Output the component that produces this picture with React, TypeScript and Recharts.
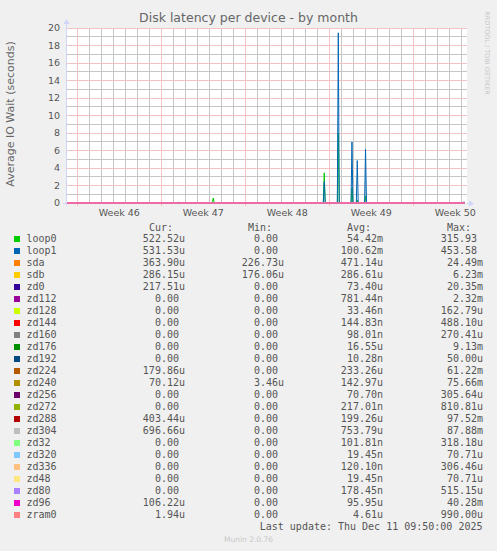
import { Line, LineChart, ReferenceLine, XAxis, YAxis } from "recharts";

// time axis: days since Monday of week 46
const times = [-0.85, 8.34, 8.42, 8.5, 11.25, 11.33, 11.41, 20.5, 20.58, 20.66, 21.67, 21.75, 21.83, 22.81, 22.89, 22.97, 23.25, 23.33, 23.41, 23.94, 24.02, 24.1, 32.14, 32.22, 32.3];
const loop0 = [0, 0, 0.1, 0, 0, 0.57, 0, 0, 3.45, 0, 0, 8, 0, 0, 1.7, 0, 0, 0.35, 0, 0, 0.8, 0, 0, 0, 0];
const loop1 = [0, 0, 0, 0, 0, 0, 0, 0, 2.45, 0, 0, 19.45, 0, 0, 6.98, 0, 0, 4.85, 0, 0, 6.15, 0, 0, 0.15, 0];
// every other device stays on the zero line at this scale
const flat = [0, 0, 0, 0, 0, 0, 0, 0, 0, 0, 0, 0, 0, 0, 0, 0, 0, 0, 0, 0, 0, 0, 0, 0, 0];

const weekTicks = [3.5, 10.5, 17.5, 24.5, 31.5];
const weekLabels = ["Week 46", "Week 47", "Week 48", "Week 49", "Week 50"];
const yTicks = [0, 2, 4, 6, 8, 10, 12, 14, 16, 18, 20];

const names = ["loop0", "loop1", "sda", "sdb", "zd0", "zd112", "zd128", "zd144", "zd160", "zd176", "zd192", "zd224", "zd240", "zd256", "zd272", "zd288", "zd304", "zd32", "zd320", "zd336", "zd48", "zd80", "zd96", "zram0"];
const colors = ["#00CC00", "#0066B3", "#FF8000", "#FFCC00", "#330099", "#990099", "#CCFF00", "#FF0000", "#808080", "#008F00", "#00487D", "#B35A00", "#B38F00", "#6B006B", "#8FB300", "#B30000", "#BEBEBE", "#80FF80", "#80C9FF", "#FFC080", "#FFE680", "#AA80FF", "#EE00CC", "#FF8080"];
const cur = ["522.52u", "531.53u", "363.90u", "286.15u", "217.51u", "0.00 ", "0.00 ", "0.00 ", "0.00 ", "0.00 ", "0.00 ", "179.86u", "70.12u", "0.00 ", "0.00 ", "403.44u", "696.66u", "0.00 ", "0.00 ", "0.00 ", "0.00 ", "0.00 ", "106.22u", "1.94u"];
const min = ["0.00 ", "0.00 ", "226.73u", "176.06u", "0.00 ", "0.00 ", "0.00 ", "0.00 ", "0.00 ", "0.00 ", "0.00 ", "0.00 ", "3.46u", "0.00 ", "0.00 ", "0.00 ", "0.00 ", "0.00 ", "0.00 ", "0.00 ", "0.00 ", "0.00 ", "0.00 ", "0.00 "];
const avg = ["54.42m", "100.62m", "471.14u", "286.61u", "73.40u", "781.44n", "33.46n", "144.83n", "98.01n", "16.55u", "10.28n", "233.26u", "142.97u", "70.70n", "217.01n", "199.26u", "753.79u", "101.81n", "19.45n", "120.10n", "19.45n", "178.45n", "95.95u", "4.61u"];
const max = ["315.93 ", "453.58 ", "24.49m", "6.23m", "20.35m", "2.32m", "162.79u", "488.10u", "270.41u", "9.13m", "50.00u", "61.22m", "75.66m", "305.64u", "810.81u", "97.52m", "87.88m", "318.18u", "70.71u", "306.46u", "70.71u", "515.15u", "40.28m", "990.00u"];

const seriesValues = (name: string) => (name === "loop0" ? loop0 : name === "loop1" ? loop1 : flat);

const rows = times.map((t, i) => {
  const row: { [k: string]: number } = { t };
  names.forEach((n) => {
    row[n] = seriesValues(n)[i];
  });
  return row;
});

const dayLines = Array.from({ length: 33 }, (_, i) => i).filter((d) => d % 7 !== 0);
const weekLines = [0, 7, 14, 21, 28];
const minorY = [1, 3, 5, 7, 9, 11, 13, 15, 17, 19];
const majorY = [2, 4, 6, 8, 10, 12, 14, 16, 18, 20];

const textColor = "#555555";
const mono = "'DejaVu Sans Mono', monospace";
const sans = "'DejaVu Sans', sans-serif";
const minorColor = "#C6C6C6";
const majorColor = "#F3C3C3";

const colEnds = [185, 284, 383, 483];
const headers = ["Cur:", "Min:", "Avg:", "Max:"];

const App = () => {
  const rowTop = (i: number) => 239.3 + 12 * i - 6;
  return (
    <div style={{ position: "absolute", left: 0, top: 0, width: 497, height: 551, background: "#F0F0F0", overflow: "hidden" }}>
      {/* TITLE */}
      <div style={{ position: "absolute", left: 0, width: 497, top: 10, textAlign: "center", fontFamily: sans, fontSize: 12.5, color: "#666", lineHeight: "16px" }}>
        Disk latency per device - by month
      </div>
      {/* Y LABEL */}
      <div style={{ position: "absolute", left: 10, top: 114, width: 0, height: 0 }}>
        <div style={{ position: "absolute", transform: "translate(-50%, -50%) rotate(-90deg)", whiteSpace: "nowrap", fontFamily: sans, fontSize: 11, color: "#666", lineHeight: "13px" }}>
          Average IO Wait (seconds)
        </div>
      </div>
      {/* WATERMARK */}
      <div style={{ position: "absolute", left: 487, top: 53, width: 0, height: 0 }}>
        <div style={{ position: "absolute", transform: "translate(-50%, -50%) rotate(90deg)", whiteSpace: "nowrap", fontFamily: sans, fontSize: 6.5, color: "#C8C8C8", lineHeight: "8px" }}>
          RRDTOOL / TOBI OETIKER
        </div>
      </div>
      {/* CANVAS */}
      <div style={{ position: "absolute", left: 67, top: 28, width: 400, height: 175, background: "#FFFFFF" }} />
      {/* CHART */}
      <div style={{ position: "absolute", left: 0, top: 0 }}>
        <LineChart width={497} height={220} data={rows} margin={{ top: 28, right: 30, left: 0, bottom: 0 }}>
          <XAxis
            dataKey="t"
            type="number"
            domain={[-0.858, 32.475]}
            ticks={weekTicks}
            tickFormatter={(v: number) => weekLabels[weekTicks.indexOf(v)]}
            axisLine={false}
            tickLine={false}
            tickSize={0}
            tickMargin={6}
            height={17}
            interval={0}
            tick={{ fill: textColor, fontSize: 9.5, fontFamily: sans }}
          />
          <YAxis
            type="number"
            domain={[0, 20]}
            ticks={yTicks}
            axisLine={false}
            tickLine={false}
            tickSize={0}
            tickMargin={7}
            width={67}
            interval={0}
            tick={{ fill: textColor, fontSize: 9.5, fontFamily: sans }}
          />
          {minorY.map((v) => (
            <ReferenceLine key={`minor-y-${v}`} y={v} stroke={minorColor} strokeWidth={1} strokeOpacity={1} shapeRendering="crispEdges" />
          ))}
          {dayLines.map((d) => (
            <ReferenceLine key={`minor-x-${d}`} x={d} stroke={minorColor} strokeWidth={1} strokeOpacity={1} shapeRendering="crispEdges" />
          ))}
          {majorY.map((v) => (
            <ReferenceLine key={`major-y-${v}`} y={v} stroke={majorColor} strokeWidth={1} shapeRendering="crispEdges" />
          ))}
          {weekLines.map((w) => (
            <ReferenceLine
              key={`major-x-${w}`}
              segment={[{ x: w, y: -0.35 }, { x: w, y: 20 }]}
              stroke={majorColor}
              strokeWidth={1}
              shapeRendering="crispEdges"
              ifOverflow="visible"
            />
          ))}
          {names.map((n, i) => (
            <Line
              key={n}
              dataKey={n}
              type="linear"
              stroke={colors[i]}
              strokeWidth={1}
              dot={false}
              activeDot={false}
              isAnimationActive={false}
            />
          ))}
        </LineChart>
      </div>
      {/* AXIS ARROWS */}
      <svg width={497} height={220} style={{ position: "absolute", left: 0, top: 0 }}>
        <line x1={66.5} y1={206} x2={66.5} y2={23} stroke="#CFD6F8" strokeWidth={1} />
        <polygon points="63.5,24 69.5,24 66.5,19" fill="#CFD6F8" />
        <line x1={63} y1={203.5} x2={67} y2={203.5} stroke="#CFD6F8" strokeWidth={1} />
        <line x1={467} y1={203.5} x2={470} y2={203.5} stroke="#CFD6F8" strokeWidth={1} />
        <polygon points="469,200.5 469,206.5 474,203.5" fill="#CFD6F8" />
      </svg>
      {/* LEGEND */}
      {headers.map((h, j) => (
        <div key={h} style={{ position: "absolute", right: 497 - colEnds[j] + 12, top: 227.5 - 6, fontFamily: mono, fontSize: 10, lineHeight: "12px", color: textColor, whiteSpace: "pre" }}>
          {h}
        </div>
      ))}
      {names.map((n, i) => (
        <div key={n}>
          <div style={{ position: "absolute", left: 14, top: rowTop(i) + 3, width: 6, height: 6, background: colors[i] }} />
          <div style={{ position: "absolute", left: 26.5, top: rowTop(i), fontFamily: mono, fontSize: 10, lineHeight: "12px", color: textColor, whiteSpace: "pre" }}>
            {n}
          </div>
          {[cur[i], min[i], avg[i], max[i]].map((v, j) => (
            <div key={j} style={{ position: "absolute", right: 497 - colEnds[j], top: rowTop(i), fontFamily: mono, fontSize: 10, lineHeight: "12px", color: textColor, whiteSpace: "pre", textAlign: "right" }}>
              {v}
            </div>
          ))}
        </div>
      ))}
      <div style={{ position: "absolute", right: 497 - 482.5, top: 527.3 - 6, fontFamily: mono, fontSize: 10, lineHeight: "12px", color: textColor, whiteSpace: "pre" }}>
        Last update: Thu Dec 11 09:50:00 2025
      </div>
      <div style={{ position: "absolute", left: 0, width: 497, top: 540 - 5, textAlign: "center", fontFamily: sans, fontSize: 7.5, lineHeight: "10px", color: "#C8C8C8" }}>
        Munin 2.0.76
      </div>
    </div>
  );
};

export default App;
